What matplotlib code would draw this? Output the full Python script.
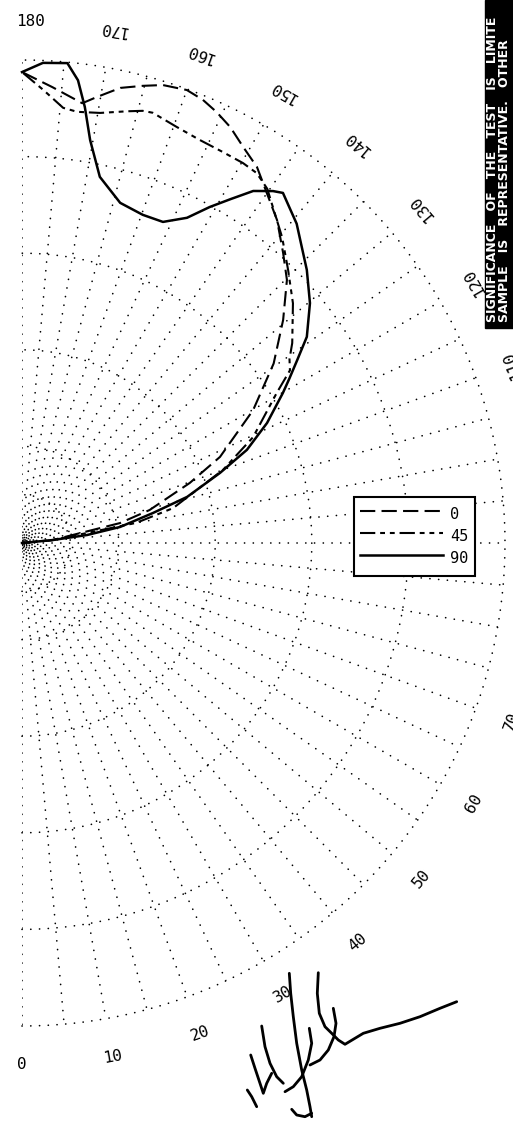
import numpy as np
import matplotlib
matplotlib.use("Agg")
import matplotlib.pyplot as plt
from matplotlib.patches import Rectangle
from matplotlib.transforms import offset_copy

# ---------------- data (angle in degrees, normalised radius) ----------------
theta_0 = [90, 95, 101.5, 104.5, 109.7, 113.5, 119.9, 125.5, 130.5, 134.8, 138.0,
           141.7, 146.2, 148.0, 150.8, 153.4, 155.7, 157.8, 160.0, 162.9, 165.2,
           167.8, 170.5, 172.2, 176.2, 180]
r_0 = [0.0, 0.06, 0.207, 0.273, 0.369, 0.447, 0.552, 0.640, 0.711, 0.773, 0.808,
       0.852, 0.897, 0.918, 0.939, 0.963, 0.979, 0.991, 0.998, 0.992, 0.979,
       0.964, 0.936, 0.919, 0.946, 0.975]

theta_45 = [90, 95.5, 100, 103, 110, 114.6, 120.5, 122.8, 124.5, 126.5, 131.5,
            135.7, 139.6, 145.3, 147.6, 149.8, 152.8, 156.2, 159.6, 163.1, 164.4,
            166.3, 169.7, 172.7, 174.6, 177.3, 180]
r_45 = [0.0, 0.064, 0.24, 0.321, 0.443, 0.526, 0.612, 0.660, 0.672, 0.696, 0.749,
        0.789, 0.831, 0.892, 0.907, 0.910, 0.910, 0.912, 0.919, 0.931, 0.929,
        0.920, 0.905, 0.900, 0.905, 0.939, 0.975]

theta_90 = [90, 95.5, 97.0, 99.3, 102.9, 105.6, 109.5, 112.5, 116.1, 119.9, 121.6,
            123.6, 125.9, 129.8, 133.8, 139.3, 143.3, 144.5, 146.7, 148.8, 150.8,
            153.1, 156.3, 159.8, 163.9, 168.0, 170.4, 171.8, 173.1, 174.6, 177.5, 180]
r_90 = [0.0, 0.064, 0.136, 0.206, 0.278, 0.355, 0.435, 0.504, 0.565, 0.623, 0.650,
        0.684, 0.728, 0.776, 0.817, 0.872, 0.904, 0.895, 0.872, 0.832, 0.797,
        0.755, 0.726, 0.724, 0.733, 0.775, 0.846, 0.912, 0.965, 0.998, 0.995, 0.975]

series_labels = ["0", "45", "90"]
angle_ticks = list(range(0, 181, 10))
angle_tick_labels = [str(a) for a in angle_ticks]
spoke_angles = list(range(0, 181, 5))
ring_values = [0.1, 0.2, 0.4, 0.6, 0.8, 1.0]

notice_lines = ["SIGNIFICANCE   OF   THE   TEST   IS   LIMITE",
                "SAMPLE   IS   REPRESENTATIVE.   OTHER"]

# signature strokes (figure pixel coordinates, decoration)
sig_strokes = [
    ([289.3, 290.7, 293.3, 296.7, 301.7, 306.7, 310.0, 311.7],
     [973.3, 993.3, 1016.7, 1043.3, 1070.0, 1090.0, 1106.7, 1116.7]),
    ([318.3, 317.3, 319.3, 325.0, 331.7, 338.3, 345.0, 353.3, 363.3, 380.0, 400.0, 420.0, 440.0, 456.7],
     [972.7, 993.3, 1013.3, 1026.7, 1033.3, 1040.0, 1044.3, 1039.3, 1033.3, 1028.3, 1023.3, 1016.7, 1008.3, 1001.7]),
    ([333.3, 336.0, 334.0, 328.3, 320.0, 310.0],
     [1008.3, 1023.3, 1036.7, 1050.0, 1060.0, 1065.0]),
    ([309.3, 311.7, 308.3, 301.7, 293.3, 285.0],
     [1028.3, 1043.3, 1060.0, 1076.7, 1086.7, 1091.7]),
    ([261.7, 265.0, 270.0, 276.7, 283.3],
     [1026.0, 1046.7, 1063.3, 1076.7, 1083.3]),
    ([250.7, 255.0, 260.0, 263.3, 266.7, 271.7],
     [1055.0, 1068.3, 1083.3, 1093.3, 1083.3, 1073.3]),
    ([247.3, 251.7, 256.7], [1090.0, 1096.7, 1106.7]),
    ([291.7, 296.7, 305.0, 311.7], [1109.3, 1115.0, 1116.7, 1113.3]),
]

# ---------------- figure ----------------
plt.rcParams["lines.scale_dashes"] = False
W, H = 513, 1121
fig = plt.figure(figsize=(W / 100, H / 100), dpi=100)
fig.patch.set_facecolor("white")

# polar centre and outer radius in pixels; the half-disc is padded to a
# square by matplotlib, so the axes box is a 2R x 2R square around it.
cx, cy, R = 22, 543, 483
side = 2 * R
ax = fig.add_axes([(cx - R / 2) / W, (H - (cy + R)) / H, side / W, side / H],
                  projection="polar")
ax.set_theta_zero_location("S")
ax.set_theta_direction(1)
ax.set_thetamin(0)
ax.set_thetamax(180)
ax.set_ylim(0, 1.0)
ax.set_thetagrids(spoke_angles, labels=[])
ax.set_rgrids(ring_values, labels=[])
ax.xaxis.grid(True, color="black", linewidth=1.2, linestyle=(0, (0.1, 6.2)))
ax.yaxis.grid(False)
for i, gl in enumerate(ax.xaxis.get_gridlines()):
    gl.set_linestyle(((i * 2.3) % 6.3, (0.1, 6.2)))
    gl.set_dash_capstyle("round")
for sp in ax.spines.values():
    sp.set_visible(False)
    sp.set_color("none")
    sp.set_linewidth(0)
ax.tick_params(length=0, width=0)
ax.patch.set_alpha(0)
ax.patch.set_edgecolor("none")
ax.patch.set_linewidth(0)

# dotted range rings
ring_theta = np.radians(np.linspace(0, 180, 721))
for rv in ring_values:
    ax.plot(ring_theta, np.full_like(ring_theta, rv), color="black", lw=1.2,
            linestyle=(0, (0.1, 6.2)), dash_capstyle="round", clip_on=False)

ax.plot(np.radians(theta_0), r_0, color="black", lw=1.5,
        linestyle=(0, (11, 4.5)), label=series_labels[0], clip_on=False)
ax.plot(np.radians(theta_45), r_45, color="black", lw=1.5,
        linestyle=(0, (11, 3.5, 3.5, 3.5, 3.5, 3.5)), label=series_labels[1], clip_on=False)
ax.plot(np.radians(theta_90), r_90, color="black", lw=1.8,
        linestyle="-", label=series_labels[2], clip_on=False)

for a, lab in zip(angle_ticks, angle_tick_labels):
    rot = a if 0 < a < 180 else 0
    tr = ax.transData
    if a == 180:
        tr = offset_copy(ax.transData, fig=fig, x=8, y=0, units="dots")
    ax.text(np.radians(a), 1.08, lab, rotation=rot, rotation_mode="anchor",
            ha="center", va="center", fontsize=11.5, family="DejaVu Sans Mono",
            transform=tr, clip_on=False)

leg = ax.legend(handles=ax.get_lines()[-3:], loc="upper left",
                bbox_to_anchor=(354 / W, 1 - 497 / H),
                bbox_transform=fig.transFigure, borderaxespad=0, borderpad=0.4,
                handlelength=5.4, handleheight=1.85, labelspacing=0.0,
                handletextpad=0.5, fancybox=False, framealpha=1,
                edgecolor="black", prop={"family": "DejaVu Sans Mono", "size": 11})
leg.get_frame().set_linewidth(1.5)
leg.set_zorder(10)

# overlay for the notice strip and signature
ov = fig.add_axes([0, 0, 1, 1], zorder=5)
ov.set_xlim(0, W)
ov.set_ylim(H, 0)
ov.axis("off")
ov.patch.set_alpha(0)
ov.add_patch(Rectangle((485, 0), 40, 328, color="black"))
ov.text(492.5, 322, notice_lines[0], rotation=90, rotation_mode="anchor",
        ha="left", va="center", color="white", fontsize=9.0, fontweight="bold",
        family="DejaVu Sans")
ov.text(504, 322, notice_lines[1], rotation=90, rotation_mode="anchor",
        ha="left", va="center", color="white", fontsize=9.0, fontweight="bold",
        family="DejaVu Sans")
for xs, ys in sig_strokes:
    ov.plot(xs, ys, color="black", lw=2.0, solid_capstyle="round",
            solid_joinstyle="round")

fig.savefig("out.png", dpi=100, facecolor="white")
